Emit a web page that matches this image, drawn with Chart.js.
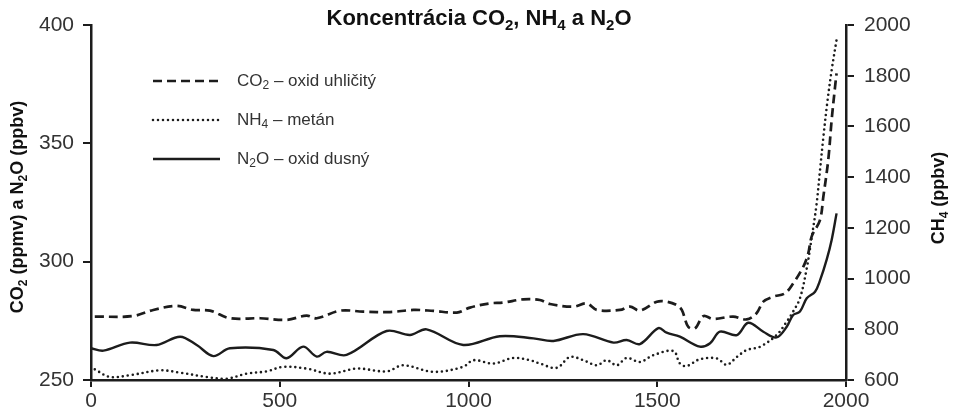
<!DOCTYPE html>
<html lang="sk">
<head>
<meta charset="UTF-8">
<title>Koncentrácia CO2, NH4 a N2O</title>
<script src="https://cdn.jsdelivr.net/npm/chart.js@4.4.1/dist/chart.umd.min.js"></script>
<style>
  html, body { margin: 0; padding: 0; background: #fff; }
  #wrap { width: 953px; height: 417px; }
</style>
</head>
<body>
<div id="wrap"><canvas id="chart" width="953" height="417"></canvas></div>
<script>
// CO2 (ppmv), left axis
const co2Years = [10, 110, 165, 227, 271, 315, 368, 448, 518, 571, 598, 660, 721, 792, 854, 907, 969, 1004, 1057, 1092, 1145, 1189, 1216, 1278, 1313, 1340, 1401, 1428, 1454, 1499, 1525, 1551, 1565, 1582, 1600, 1622, 1648, 1701, 1737, 1763, 1781, 1807, 1838, 1860, 1887, 1900, 1909, 1931, 1940, 1953, 1962, 1971, 1975];
const co2Values = [276.8, 277.0, 279.6, 281.3, 279.6, 279.3, 276.1, 276.1, 275.4, 277.2, 276.1, 279.3, 278.9, 278.7, 279.6, 279.2, 278.5, 280.6, 282.4, 282.7, 284.1, 283.8, 282.1, 281.0, 282.4, 279.6, 279.6, 281.0, 279.3, 283.1, 283.1, 281.7, 279.6, 272.5, 271.8, 277.0, 275.8, 276.8, 275.6, 278.2, 283.1, 285.2, 286.6, 290.8, 297.9, 303.5, 310.6, 317.6, 327.5, 343.0, 359.9, 373.9, 379.6];

// CH4 (ppbv), right axis
const ch4Years = [10, 50, 103, 183, 236, 306, 359, 412, 465, 509, 571, 633, 704, 783, 827, 907, 986, 1013, 1066, 1119, 1163, 1189, 1234, 1269, 1304, 1340, 1366, 1393, 1419, 1454, 1490, 1543, 1560, 1578, 1613, 1658, 1684, 1711, 1737, 1772, 1816, 1843, 1860, 1878, 1896, 1909, 1922, 1931, 1940, 1950, 1962, 1975];
const ch4Values = [642, 612, 619, 638, 629, 612, 605, 625, 634, 652, 645, 625, 645, 634, 658, 632, 652, 678, 665, 687, 678, 665, 648, 691, 678, 658, 678, 658, 687, 671, 698, 714, 665, 655, 682, 685, 660, 691, 718, 731, 777, 830, 870, 922, 1040, 1160, 1293, 1425, 1557, 1689, 1822, 1941];

// N2O (ppbv), left axis
const n2oYears = [0, 33, 103, 174, 236, 280, 324, 368, 483, 518, 562, 598, 624, 677, 783, 845, 889, 986, 1083, 1172, 1225, 1304, 1384, 1419, 1454, 1503, 1525, 1560, 1613, 1640, 1666, 1711, 1741, 1781, 1816, 1843, 1860, 1878, 1896, 1918, 1931, 1949, 1962, 1975];
const n2oValues = [263.4, 262.4, 265.8, 264.8, 268.3, 264.8, 260.1, 263.4, 262.7, 259.2, 264.1, 259.9, 261.9, 260.6, 270.7, 269.0, 271.4, 264.8, 268.5, 267.6, 266.5, 269.4, 265.8, 266.9, 265.2, 271.9, 270.0, 268.3, 264.1, 265.5, 270.4, 269.0, 274.2, 270.4, 268.0, 272.5, 277.5, 278.9, 284.5, 287.3, 292.0, 301.0, 309.2, 320.4];

const xTicks = [0, 500, 1000, 1500, 2000];
const leftTicks = [250, 300, 350, 400];
const rightTicks = [600, 800, 1000, 1200, 1400, 1600, 1800, 2000];

const titleText = 'Koncentrácia CO_2, NH_4 a N_2O';
const leftTitle = 'CO_2 (ppmv) a N_2O (ppbv)';
const rightTitle = 'CH_4 (ppbv)';
const legendLabels = ['CO_2 – oxid uhličitý', 'NH_4 – metán', 'N_2O – oxid dusný'];

const ink = '#1c1c1c';
const textCol = '#333';
const FONT = "'Liberation Sans', Arial, sans-serif";

function pts(xs, ys) {
    return xs.map((x, i) => ({ x: x, y: ys[i] }));
}

// text with "_2" style subscripts
function richWidth(ctx, text, size, weight) {
    const parts = text.split(/_(\d)/);
    let w = 0;
    parts.forEach((p, i) => {
        ctx.font = weight + ' ' + (i % 2 ? Math.round(size * 0.68) : size) + 'px ' + FONT;
        w += ctx.measureText(p).width;
    });
    return w;
}
function drawRich(ctx, text, x, y, size, weight, align) {
    const parts = text.split(/_(\d)/);
    let cx = x;
    if (align === 'center') cx = x - richWidth(ctx, text, size, weight) / 2;
    ctx.textBaseline = 'middle';
    ctx.textAlign = 'left';
    parts.forEach((p, i) => {
        const sub = i % 2 === 1;
        ctx.font = weight + ' ' + (sub ? Math.round(size * 0.68) : size) + 'px ' + FONT;
        ctx.fillText(p, cx, sub ? y + size * 0.3 : y);
        cx += ctx.measureText(p).width;
    });
}

const decorPlugin = {
    id: 'decor',
    afterDraw(chart) {
        const ctx = chart.ctx;
        ctx.save();
        ctx.fillStyle = '#111';
        drawRich(ctx, titleText, 479, 19, 22, 'bold', 'center');

        // axis titles
        ctx.save();
        ctx.translate(18, 207);
        ctx.rotate(-Math.PI / 2);
        drawRich(ctx, leftTitle, 0, 0, 18, 'bold', 'center');
        ctx.restore();
        ctx.save();
        ctx.translate(939, 198);
        ctx.rotate(-Math.PI / 2);
        drawRich(ctx, rightTitle, 0, 0, 18, 'bold', 'center');
        ctx.restore();

        // legend inside the plot
        const ys = [81, 120, 159];
        chart.data.datasets.forEach((ds, i) => {
            ctx.save();
            ctx.strokeStyle = ds.borderColor;
            ctx.lineWidth = ds.borderWidth;
            ctx.lineCap = ds.borderCapStyle || 'butt';
            ctx.setLineDash(ds.borderDash || []);
            ctx.beginPath();
            ctx.moveTo(153, ys[i]);
            ctx.lineTo(220, ys[i]);
            ctx.stroke();
            ctx.restore();
            ctx.fillStyle = textCol;
            drawRich(ctx, legendLabels[i], 237, ys[i], 17, 'normal', 'left');
        });
        ctx.restore();
    }
};

const axisGrid = { display: true, drawOnChartArea: false, drawTicks: true, tickLength: 8, color: ink, lineWidth: 2 };
const axisBorder = { display: true, color: ink, width: 2.5 };
const tickFont = { family: FONT, size: 21 };
const plain = (v) => String(v);

new Chart(document.getElementById('chart'), {
    type: 'line',
    data: {
        datasets: [
            {
                label: 'CO2',
                data: pts(co2Years, co2Values),
                yAxisID: 'y',
                borderColor: ink,
                borderWidth: 2.7,
                borderDash: [9, 5],
                tension: 0.35,
                pointRadius: 0,
                fill: false
            },
            {
                label: 'CH4',
                data: pts(ch4Years, ch4Values),
                yAxisID: 'y2',
                borderColor: ink,
                borderWidth: 2.6,
                borderDash: [0, 5],
                borderCapStyle: 'round',
                tension: 0.35,
                pointRadius: 0,
                fill: false
            },
            {
                label: 'N2O',
                data: pts(n2oYears, n2oValues),
                yAxisID: 'y',
                borderColor: ink,
                borderWidth: 2.4,
                tension: 0.35,
                pointRadius: 0,
                fill: false
            }
        ]
    },
    options: {
        responsive: false,
        animation: false,
        layout: { padding: { top: 25, left: 0, right: 0, bottom: 0 } },
        plugins: {
            legend: { display: false },
            title: { display: false },
            tooltip: { enabled: false }
        },
        scales: {
            x: {
                type: 'linear',
                min: 0,
                max: 2000,
                afterBuildTicks: (s) => { s.ticks = xTicks.map(v => ({ value: v })); },
                afterFit: (s) => { s.height = 37; },
                grid: Object.assign({}, axisGrid, { tickLength: 7 }),
                border: axisBorder,
                ticks: { color: textCol, font: tickFont, padding: 2, maxRotation: 0, callback: plain }
            },
            y: {
                position: 'left',
                min: 250,
                max: 400,
                afterBuildTicks: (s) => { s.ticks = leftTicks.map(v => ({ value: v })); },
                afterFit: (s) => { s.width = 91; },
                grid: axisGrid,
                border: axisBorder,
                ticks: { color: textCol, font: tickFont, padding: 9, callback: plain }
            },
            y2: {
                position: 'right',
                min: 600,
                max: 2000,
                afterBuildTicks: (s) => { s.ticks = rightTicks.map(v => ({ value: v })); },
                afterFit: (s) => { s.width = 107; },
                grid: axisGrid,
                border: axisBorder,
                ticks: { color: textCol, font: tickFont, padding: 10, callback: plain }
            }
        }
    },
    plugins: [decorPlugin]
});
</script>
</body>
</html>
